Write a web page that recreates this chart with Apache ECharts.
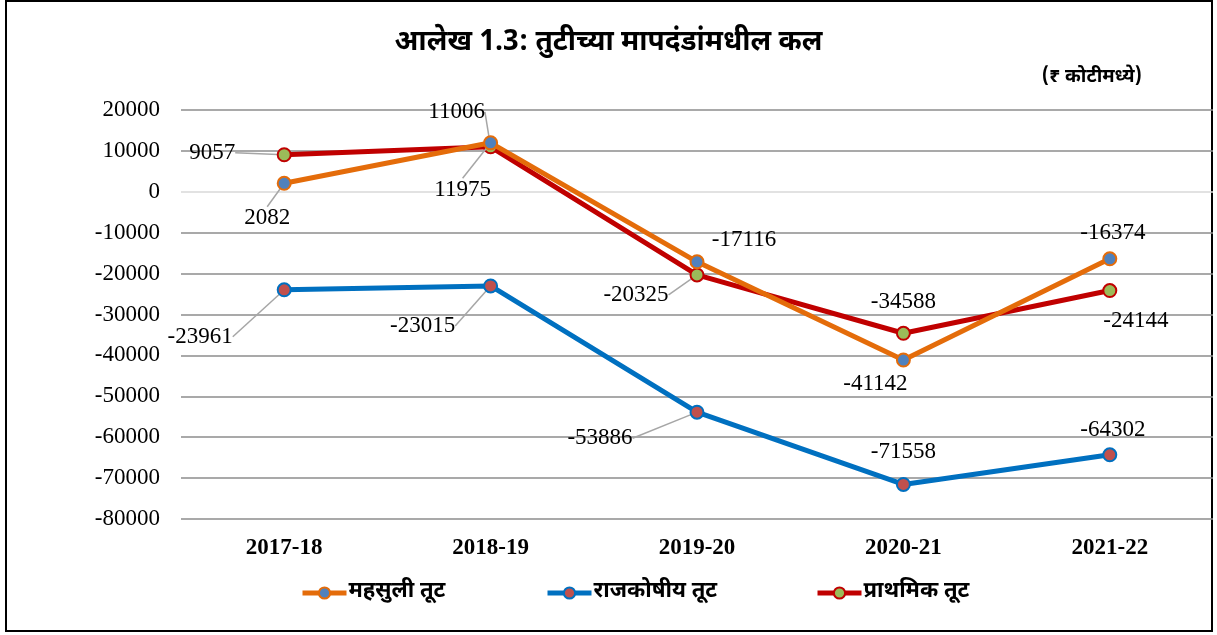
<!DOCTYPE html>
<html>
<head>
<meta charset="utf-8">
<script src="https://cdn.jsdelivr.net/npm/echarts@6/dist/echarts.min.js"></script>
<style>
    html, body { margin: 0; padding: 0; background: #fff; }
    #echarts { width: 1217px; height: 635px; }
</style>
</head>
<body>
<div id="echarts"></div>
<script>
// data (₹ crore)
var years = ['2017-18', '2018-19', '2019-20', '2020-21', '2021-22'];
var seriesNames = ['महसुली तूट', 'राजकोषीय तूट', 'प्राथमिक तूट'];
var revenueDeficit = [2082, 11975, -17116, -41142, -16374];
var fiscalDeficit = [-23961, -23015, -53886, -71558, -64302];
var primaryDeficit = [9057, 11006, -20325, -34588, -24144];
var yTicks = [-80000, 20000, 10000];   // min, max, step

// label offsets from the marker [dx, dy, leader line]
var labelOffsets = [
    [[-17, 35, true], [-28, 47, true], [47, -22, false], [-28, 24, false], [3, -26, false]],
    [[-84, 47, true], [-68, 40, true], [-97, 26, true], [0, -33, false], [3, -25, false]],
    [[-72, -2, true], [-34, -35, true], [-61, 20, true], [0, -31, false], [26, 30, false]]
];

var serif = '"Liberation Serif", "Times New Roman", serif';
var deva = '"Noto Sans Devanagari", "Noto Sans", sans-serif';

function buildData(values, s) {
    var arr = [];
    for (var i = 0; i < values.length; i++) {
        arr.push({
            value: values[i],
            labelLine: { show: labelOffsets[s][i][2] }
        });
    }
    return arr;
}

function makeSeries(s, values, lineColor, markerColor) {
    return {
        name: seriesNames[s],
        type: 'line',
        data: buildData(values, s),
        symbol: 'circle',
        symbolSize: 13,
        lineStyle: { color: lineColor, width: 5 },
        itemStyle: { color: markerColor, borderColor: lineColor, borderWidth: 2 },
        label: {
            show: true,
            position: 'inside',
            color: '#000',
            fontFamily: serif,
            fontSize: 23
        },
        labelLine: {
            show: false,
            lineStyle: { color: '#A6A6A6', width: 1.5 }
        },
        labelLayout: function (params) {
            var o = labelOffsets[s][params.dataIndex];
            return { dx: o[0], dy: o[1] };
        },
        emphasis: { disabled: true },
        z: 3 - s
    };
}

function makeLegend(name, left) {
    return {
        left: left,
        top: 582,
        padding: 0,
        itemWidth: 44,
        itemHeight: 14,
        itemGap: 0,
        data: [name],
        lineStyle: { width: 5 },
        textStyle: { fontFamily: deva, fontSize: 22, fontWeight: 'bold', color: '#000', padding: [0, 0, 0, -3] }
    };
}

// 0 line lighter than the other grid lines
var splitColors = [];
for (var v = yTicks[0]; v <= yTicks[1]; v += yTicks[2]) {
    splitColors.push(v === 0 ? '#D9D9D9' : '#8C8C8C');
}

var myChart = echarts.init(document.getElementById('echarts'));
var option = {
    backgroundColor: '#fff',
    animation: false,
    title: [
        {
            text: 'आलेख 1.3: तुटीच्या मापदंडांमधील कल',
            left: 'center',
            top: 26,
            textStyle: { fontFamily: deva, fontSize: 28, fontWeight: 'bold', color: '#000' }
        },
        {
            text: '(₹ कोटीमध्ये)',
            right: 70,
            top: 64,
            textStyle: { fontFamily: deva, fontSize: 19, fontWeight: 'bold', color: '#000' }
        }
    ],
    graphic: [{
        type: 'rect',
        shape: { x: 6, y: 1, width: 1206, height: 630 },
        style: { fill: 'none', stroke: '#000', lineWidth: 2 },
        silent: true
    }],
    legend: [
        makeLegend(seriesNames[0], 300),
        makeLegend(seriesNames[1], 545),
        makeLegend(seriesNames[2], 815)
    ],
    grid: { left: 181, right: 4, top: 110, bottom: 116, containLabel: false },
    xAxis: {
        type: 'category',
        data: years,
        boundaryGap: true,
        axisLine: { show: false, onZero: false },
        axisTick: { show: false },
        axisLabel: {
            margin: 18,
            color: '#000',
            fontFamily: serif,
            fontSize: 23,
            fontWeight: 'bold'
        }
    },
    yAxis: {
        type: 'value',
        min: yTicks[0],
        max: yTicks[1],
        interval: yTicks[2],
        axisLine: { show: false },
        axisTick: { show: false },
        axisLabel: {
            margin: 21,
            color: '#000',
            fontFamily: serif,
            fontSize: 23,
            formatter: function (val) { return String(val); }
        },
        splitLine: { lineStyle: { color: splitColors, width: 1.5 } }
    },
    series: [
        makeSeries(0, revenueDeficit, '#E46C0A', '#4F81BD'),
        makeSeries(1, fiscalDeficit, '#0070C0', '#C0504D'),
        makeSeries(2, primaryDeficit, '#C00000', '#9BBB59')
    ]
};
myChart.setOption(option);
</script>
</body>
</html>
